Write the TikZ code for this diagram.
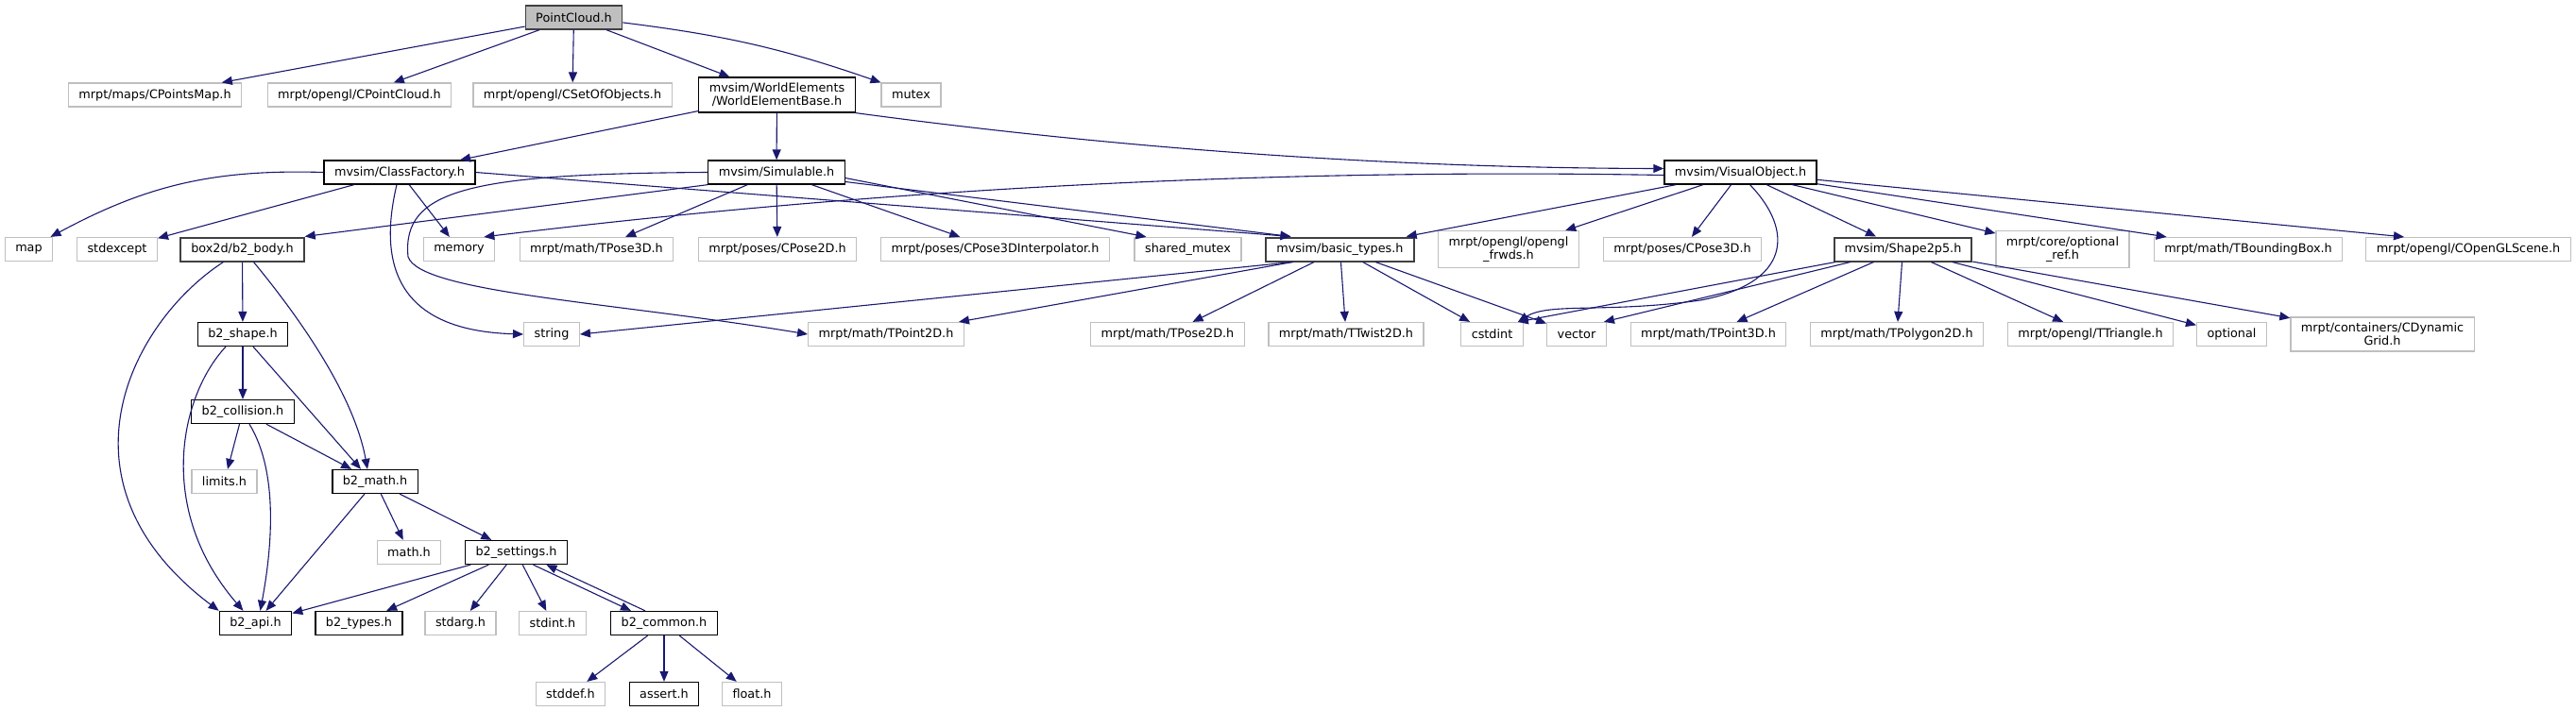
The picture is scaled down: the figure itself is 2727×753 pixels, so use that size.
\documentclass[tikz,border=0pt]{standalone}
\usepackage{fontspec}
\newfontfamily\doxfont{DejaVu Sans}
\usetikzlibrary{arrows.meta}
\definecolor{edgeblue}{HTML}{191970}
\definecolor{extgray}{HTML}{BFBFBF}
\definecolor{boldgray}{HTML}{404040}

\begin{document}
\begin{tikzpicture}[x=1bp, y=-1bp, font=\doxfont\fontsize{12.8bp}{14bp}\selectfont]
        % Define block styles
        \tikzstyle{hdr} = [rectangle, draw, fill=white, inner xsep=11bp, inner ysep=6bp, minimum height=25bp, align=center]
        \tikzstyle{ext} = [hdr, draw=extgray, line width=1.2bp]
        \tikzstyle{doc} = [hdr, draw=black, line width=1.3bp]
        \tikzstyle{docb} = [hdr, draw=boldgray, line width=2bp]
        \tikzstyle{rootfile} = [hdr, draw=boldgray, fill=extgray, line width=1.3bp]
        \tikzstyle{dep} = [draw=edgeblue, line width=1.1bp, -{Triangle[length=11bp, width=9bp]}]

        \useasboundingbox (0,0) rectangle (2727,753);

        % Place nodes
        \node [rootfile] (pcloudh) at (607.5,18.5) {PointCloud.h};

        \node [ext] (pmap) at (164,100.5) {mrpt/maps/CPointsMap.h};
        \node [ext] (cpcloud) at (380.5,100.5) {mrpt/opengl/CPointCloud.h};
        \node [ext] (setobj) at (606,100.5) {mrpt/opengl/CSetOfObjects.h};
        \node [doc] (web) at (822.5,100.5) {mvsim/WorldElements\\/WorldElementBase.h};
        \node [ext] (mutex) at (964.5,100.5) {mutex};

        \node [doc] (cfactory) at (423,182.5) {mvsim/ClassFactory.h};
        \node [doc] (simul) at (822,182.5) {mvsim/Simulable.h};
        \node [doc] (vobj) at (1842.5,182.5) {mvsim/VisualObject.h};

        \node [ext] (map) at (30.5,264) {map};
        \node [ext] (stdexcept) at (124,264) {stdexcept};
        \node [docb] (b2body) at (256.5,264) {box2d/b2\_body.h};
        \node [ext] (memory) at (486,264) {memory};
        \node [ext] (tpose3d) at (631.5,264) {mrpt/math/TPose3D.h};
        \node [ext] (cpose2d) at (823,264) {mrpt/poses/CPose2D.h};
        \node [ext] (interp) at (1053.5,264) {mrpt/poses/CPose3DInterpolator.h};
        \node [ext] (shmutex) at (1257.5,264) {shared\_mutex};
        \node [docb] (basic) at (1418.5,264) {mvsim/basic\_types.h};
        \node [ext] (frwds) at (1597,264) {mrpt/opengl/opengl\\\_frwds.h};
        \node [ext] (cpose3d) at (1781,264) {mrpt/poses/CPose3D.h};
        \node [docb] (shape) at (2014.5,264) {mvsim/Shape2p5.h};
        \node [ext] (optref) at (2183.5,264) {mrpt/core/optional\\\_ref.h};
        \node [ext] (bbox) at (2380,264) {mrpt/math/TBoundingBox.h};
        \node [ext] (scene) at (2613,264) {mrpt/opengl/COpenGLScene.h};

        \node [doc] (b2shape) at (257,354) {b2\_shape.h};
        \node [ext] (string) at (584,354) {string};
        \node [ext] (tpoint2d) at (938,354) {mrpt/math/TPoint2D.h};
        \node [ext] (tpose2d) at (1236,354) {mrpt/math/TPose2D.h};
        \node [ext] (ttwist) at (1425,354) {mrpt/math/TTwist2D.h};
        \node [ext] (cstdint) at (1579.5,354) {cstdint};
        \node [ext] (vector) at (1669,354) {vector};
        \node [ext] (tpoint3d) at (1808.5,354) {mrpt/math/TPoint3D.h};
        \node [ext] (tpoly) at (2008,354) {mrpt/math/TPolygon2D.h};
        \node [ext] (ttri) at (2213,354) {mrpt/opengl/TTriangle.h};
        \node [ext] (optional) at (2362.5,354) {optional};
        \node [ext] (dyngrid) at (2522,354) {mrpt/containers/CDynamic\\Grid.h};

        \node [doc] (b2coll) at (257,436) {b2\_collision.h};
        \node [ext] (limits) at (237.5,510) {limits.h};
        \node [doc] (b2math) at (397,510) {b2\_math.h};
        \node [ext] (mathh) at (433,585) {math.h};
        \node [doc] (b2set) at (546.5,585) {b2\_settings.h};
        \node [doc] (b2api) at (270.5,660) {b2\_api.h};
        \node [doc] (b2types) at (380,660) {b2\_types.h};
        \node [ext] (stdarg) at (487.5,660) {stdarg.h};
        \node [ext] (stdint) at (585,660) {stdint.h};
        \node [doc] (b2common) at (703,660) {b2\_common.h};
        \node [ext] (stddef) at (604,735) {stddef.h};
        \node [doc] (assert) at (703,735) {assert.h};
        \node [ext] (float) at (796,735) {float.h};

        % Draw edges
        \draw [dep] (pcloudh) -- (pmap);
        \draw [dep] (pcloudh) -- (cpcloud);
        \draw [dep] (pcloudh) -- (setobj);
        \draw [dep] (pcloudh) -- (web);
        \draw [dep] (pcloudh) to[bend left=6] (mutex.north west);

        \draw [dep] (web) -- (cfactory);
        \draw [dep] (web) -- (simul);
        \draw [dep] (web.south east) .. controls (1191,158) and (1476,178) .. ([yshift=4bp]vobj.west);

        \draw [dep] (cfactory.west) to[bend right=15] (map);
        \draw [dep] (cfactory) -- (stdexcept);
        \draw [dep] (cfactory) -- (memory);
        \draw [dep] ([xshift=-3bp]cfactory.south) .. controls (400,280) and (420,350) .. (string.west);
        \draw [dep] (cfactory.east) -- ([xshift=-52bp]basic.north);

        \draw [dep] (simul.south west) -- (b2body.north east);
        \draw [dep] (simul.west) .. controls (500,184) and (425,200) .. (432,272) .. controls (445,310) and (650,320) .. (tpoint2d.west);
        \draw [dep] (simul) -- (tpose3d);
        \draw [dep] (simul) -- (cpose2d);
        \draw [dep] (simul) -- (interp);
        \draw [dep] ([yshift=-6bp]simul.east) -- ([xshift=-44bp]shmutex.north);
        \draw [dep] ([yshift=-10bp]simul.east) -- ([xshift=-52bp]basic.north);

        \draw [dep] ([yshift=-3bp]vobj.west) .. controls (1344,178) and (929,200) .. ([xshift=-12bp]memory.north east);
        \draw [dep] (vobj) -- (basic);
        \draw [dep] (vobj) -- (frwds);
        \draw [dep] (vobj) -- (cpose3d);
        \draw [dep] ([xshift=10bp]vobj.south) .. controls (1900,245) and (1895,300) .. (1800,318) .. controls (1700,332) and (1640,320) .. ([xshift=-6bp]cstdint.north east);
        \draw [dep] (vobj) -- (shape);
        \draw [dep] (vobj) -- (optref);
        \draw [dep] (vobj) -- (bbox);
        \draw [dep] (vobj) -- ([xshift=-68bp]scene.north);

        \draw [dep] ([xshift=-50bp]basic.south) -- (string.east);
        \draw [dep] ([xshift=-50bp]basic.south) -- ([xshift=-6bp]tpoint2d.north east);
        \draw [dep] (basic) -- (tpose2d);
        \draw [dep] (basic) -- (ttwist);
        \draw [dep] (basic) -- (cstdint);
        \draw [dep] (basic) -- (vector);

        \draw [dep] (shape) -- ([xshift=-6bp]cstdint.north east);
        \draw [dep] (shape) -- ([xshift=-3bp]vector.north east);
        \draw [dep] (shape) -- (tpoint3d);
        \draw [dep] (shape) -- (tpoly);
        \draw [dep] (shape) -- (ttri);
        \draw [dep] (shape) -- (optional);
        \draw [dep] (shape) -- (dyngrid);

        \draw [dep] (b2body) -- (b2shape);
        \draw [dep] ([xshift=-20bp]b2body.south) .. controls (140,340) and (50,510) .. (b2api.north west);
        \draw [dep] ([xshift=12bp]b2body.south) .. controls (320,340) and (375,420) .. ([xshift=-8bp]b2math.north);

        \draw [dep] (b2shape) -- (b2coll);
        \draw [dep] ([xshift=-18bp]b2shape.south) .. controls (190,420) and (165,540) .. ([xshift=-13bp]b2api.north);
        \draw [dep] ([xshift=11bp]b2shape.south) -- ([xshift=-15bp]b2math.north);

        \draw [dep] (b2coll) -- (limits);
        \draw [dep] ([xshift=7bp]b2coll.south) .. controls (295,500) and (288,580) .. ([xshift=5bp]b2api.north);
        \draw [dep] (b2coll) -- (b2math);

        \draw [dep] (b2math) -- (b2api);
        \draw [dep] (b2math) -- (mathh);
        \draw [dep] (b2math) -- (b2set);

        \draw [dep] (b2set) -- (b2api);
        \draw [dep] (b2set) -- (b2types);
        \draw [dep] (b2set) -- (stdarg);
        \draw [dep] (b2set) -- (stdint);
        \draw [dep] ([xshift=18bp]b2set.south) -- ([xshift=-35bp]b2common.north);

        \draw [dep] ([xshift=-20bp]b2common.north) -- ([xshift=32bp]b2set.south);
        \draw [dep] (b2common) -- (stddef);
        \draw [dep] (b2common) -- (assert);
        \draw [dep] (b2common) -- (float);
    \end{tikzpicture}
\end{document}
